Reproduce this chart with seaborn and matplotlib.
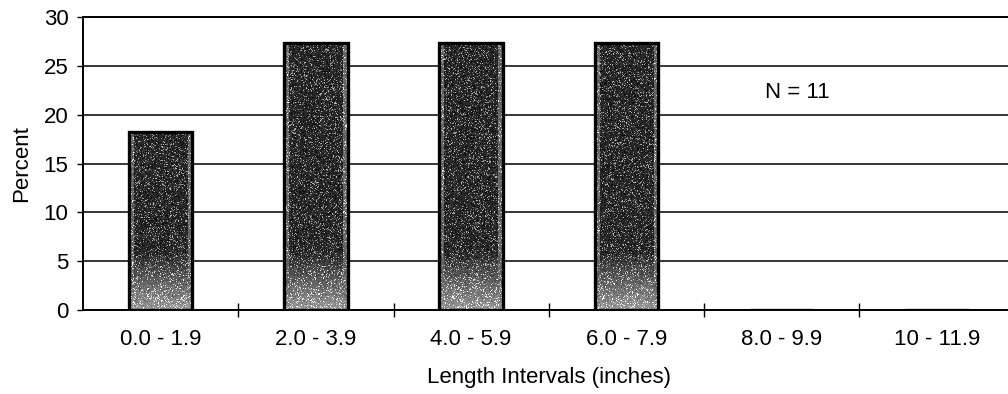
import numpy as np
import pandas as pd
import matplotlib
matplotlib.use("Agg")
import matplotlib.pyplot as plt
from matplotlib.ticker import FixedLocator
import seaborn as sns

# Length-frequency distribution
intervals = ["0.0 - 1.9", "2.0 - 3.9", "4.0 - 5.9", "6.0 - 7.9", "8.0 - 9.9", "10 - 11.9"]
percent = [18.2, 27.3, 27.3, 27.3, 0.0, 0.0]
sample_size = 11
y_ticks = [0, 5, 10, 15, 20, 25, 30]

sns.set_theme(style="white")
plt.rcParams["font.family"] = ["Liberation Sans", "DejaVu Sans"]

W, H = 1008, 394
fig = plt.figure(figsize=(W / 100, H / 100), dpi=100)
left, right, top, bottom = 83, 1014.5, 17, 310
ax = fig.add_axes([left / W, (H - bottom) / H, (right - left) / W, (bottom - top) / H])

df = pd.DataFrame({"interval": intervals, "percent": percent})
sns.barplot(data=df, x="interval", y="percent", width=0.41, color="0.2",
            edgecolor="black", linewidth=2.4, ax=ax, zorder=3)

# grainy gray fill for each bar: dark body, lighter speckled base
rng = np.random.default_rng(7)
for p in ax.patches:
    h = p.get_height()
    if h <= 0:
        continue
    x0, w = p.get_x(), p.get_width()
    ny, nx = int(h * 9.77), 64
    yy = np.linspace(h, 0, ny)[:, None]
    base = np.where(yy > 6, 0.16, 0.16 + (6 - yy) / 6 * 0.45)
    base = np.clip(base, 0, 0.62) * np.ones((1, nx))
    cols = np.arange(nx)[None, :]
    edge = (cols < 5) | (cols > nx - 6)
    base = np.where(edge, np.maximum(base, 0.42), base)
    speck = rng.random((ny, nx))
    tex = base + (speck > 0.78) * rng.random((ny, nx)) * 0.6 - (speck < 0.2) * 0.1
    tex = np.clip(tex, 0, 1)
    im = ax.imshow(tex, extent=[x0, x0 + w, 0, h], aspect="auto", cmap="gray",
                   vmin=0, vmax=1, interpolation="nearest", zorder=2.5)
    im.set_clip_path(p)
    p.set_facecolor("none")

ax.set_xlim(-0.5, len(intervals) - 0.5)
ax.set_ylim(0, 30)
ax.set_yticks(y_ticks)
ax.set_axisbelow(True)
ax.yaxis.grid(True, color="black", linewidth=1.1)
ax.xaxis.grid(False)

for side in ["left", "bottom", "top"]:
    ax.spines[side].set_visible(True)
    ax.spines[side].set_color("black")
    ax.spines[side].set_linewidth(1.4)
ax.spines["right"].set_visible(False)

fs = 16
ax.tick_params(axis="y", which="major", direction="out", length=4.5, width=1.0,
               color="black", labelsize=fs, pad=6, left=True, labelcolor="black")
ax.tick_params(axis="x", which="major", length=0, labelsize=fs, pad=14, labelcolor="black")
ax.xaxis.set_minor_locator(FixedLocator(np.arange(0.5, len(intervals) - 0.5, 1.0)))
ax.tick_params(axis="x", which="minor", direction="inout", length=9.5, width=1.0,
               color="black", bottom=True)

ax.set_xlabel("Length Intervals (inches)", fontsize=fs, labelpad=12, color="black")
ax.set_ylabel("Percent", fontsize=fs, labelpad=8, color="black")

ax.text(4.1, 22.3, f"N = {sample_size}", fontsize=fs, ha="center", va="center",
        color="black")

fig.savefig("out.png", dpi=100)
